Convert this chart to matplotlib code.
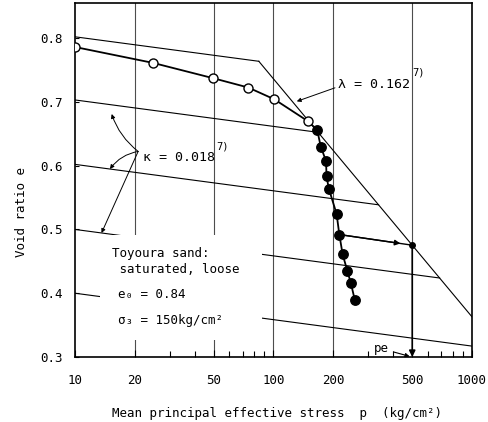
import numpy as np
import matplotlib
matplotlib.use('Agg')
import matplotlib.pyplot as plt
from matplotlib.patches import Rectangle

plt.rcParams['font.family'] = ['DejaVu Sans Mono', 'DejaVu Sans']
plt.rcParams['font.size'] = 9

# isotropic compression, open circles
p_open = [10, 24.8, 49.8, 74.6, 101, 148.6]
e_open = [0.786, 0.761, 0.737, 0.7225, 0.704, 0.670]
# compression beyond yielding, filled circles
p_fill = [166, 173, 184, 185, 190, 208, 214.6, 223, 235.5, 245.5, 257]
e_fill = [0.656, 0.630, 0.607, 0.583, 0.564, 0.524, 0.492, 0.461, 0.435, 0.4155, 0.389]

# reference lines
kappa = 0.018
lam = 0.162
kappa_e10 = [0.802, 0.703, 0.602, 0.50, 0.40]   # e at p = 10
lam_e1000 = 0.363                               # e at p = 1000
pe = 500
grid_p = [20, 50, 100, 200, 500]
xticks = [10, 20, 50, 100, 200, 500, 1000]
yticks = [0.3, 0.4, 0.5, 0.6, 0.7, 0.8]

ks = kappa * np.log(10)   # slope per decade
ls = lam * np.log(10)

def e_lam(L):
    return lam_e1000 - ls * (L - 3)

fig = plt.figure(figsize=(4.89, 4.22), dpi=100)
ax = fig.add_axes([0.1534, 0.154, 0.8118, 0.8389])
ax.set_xscale('log')
ax.set_xlim(10, 1000)
ax.set_ylim(0.3, 0.855)

for v in grid_p:
    ax.axvline(v, color='0.3', lw=0.8, zorder=1)

# kappa lines, cut where they meet the lambda line
bend = None
for e0 in kappa_e10:
    L = (lam_e1000 + 3 * ls - e0 - ks) / (ls - ks)
    L = min(L, 3.0)
    if bend is None:
        bend = L
    ax.plot([10, 10 ** L], [e0, e0 - ks * (L - 1)], color='k', lw=0.8, zorder=2)

# lambda line
ax.plot([10 ** bend, 1000], [e_lam(bend), e_lam(3)], color='k', lw=0.8, zorder=2)

# white panel behind the sample description
ax.add_patch(Rectangle((0.063, 0.048), 0.408, 0.297, transform=ax.transAxes,
                       facecolor='white', edgecolor='none', zorder=3))
ax.text(0.092, 0.31, 'Toyoura sand:\n saturated, loose', transform=ax.transAxes,
        va='top', ha='left', zorder=4, linespacing=1.3)
ax.text(0.108, 0.176, 'e₀ = 0.84', transform=ax.transAxes, va='center', zorder=4)
ax.text(0.108, 0.102, 'σ₃ = 150kg/cm²', transform=ax.transAxes, va='center', zorder=4)

# test path
ax.plot(p_open + p_fill, e_open + e_fill, color='k', lw=1.3, zorder=5)
ax.plot(p_open, e_open, 'o', ms=6.5, mfc='white', mec='k', mew=1.0, zorder=6)
ax.plot(p_fill, e_fill, 'o', ms=6.8, mfc='k', mec='k', zorder=6)

# equivalent pressure construction
e_pe = e_lam(np.log10(pe))
ax.plot([p_fill[6], pe], [e_fill[6], e_pe], color='k', lw=1.0, zorder=5)
p_head = 450
e_head = e_fill[6] + (e_pe - e_fill[6]) * np.log10(p_head / p_fill[6]) / np.log10(pe / p_fill[6])
ax.annotate('', xy=(p_head, e_head), xytext=(p_fill[6], e_fill[6]),
            arrowprops=dict(arrowstyle='-|>', color='k', lw=1.0, mutation_scale=8), zorder=5)
ax.plot([pe], [e_pe], 'o', ms=4, color='k', zorder=6)
ax.annotate('', xy=(pe, 0.3), xytext=(pe, e_pe),
            arrowprops=dict(arrowstyle='-|>', color='k', lw=1.2, mutation_scale=9,
                            shrinkA=0, shrinkB=0), zorder=5)
ax.annotate('pe', xy=(pe * 0.97, 0.301), xytext=(322, 0.313), va='center',
            arrowprops=dict(arrowstyle='-|>', color='k', lw=0.8, mutation_scale=6,
                            shrinkA=1, shrinkB=0), zorder=5)

# labels for kappa and lambda
ax.text(22.0, 0.6124, 'κ = 0.018', va='center', ha='left', fontsize=9.5)
ax.text(51.3, 0.6297, '7)', va='center', ha='left', fontsize=7.5)
ks_from = (20.8, 0.6223)
ax.annotate('', xy=(15.3, 0.681), xytext=ks_from,
            arrowprops=dict(arrowstyle='-|>', color='k', lw=0.7, mutation_scale=6,
                            connectionstyle='arc3,rad=-0.15', shrinkA=0, shrinkB=0))
ax.annotate('', xy=(15.0, 0.5947), xytext=ks_from,
            arrowprops=dict(arrowstyle='-|>', color='k', lw=0.7, mutation_scale=6,
                            connectionstyle='arc3,rad=0.2', shrinkA=0, shrinkB=0))
ax.annotate('', xy=(13.6, 0.4944), xytext=ks_from,
            arrowprops=dict(arrowstyle='-|>', color='k', lw=0.7, mutation_scale=6,
                            shrinkA=0, shrinkB=0))

ax.text(211, 0.727, 'λ = 0.162', va='center', ha='left', fontsize=9.5)
ax.text(499, 0.746, '7)', va='center', ha='left', fontsize=7.5)
ax.annotate('', xy=(131, 0.7008), xytext=(204, 0.722),
            arrowprops=dict(arrowstyle='-|>', color='k', lw=0.7, mutation_scale=6,
                            shrinkA=0, shrinkB=0))

# axes styling
ax.set_xticks(xticks)
ax.set_xticklabels([str(t) for t in xticks])
ax.set_yticks(yticks)
ax.set_yticklabels(['%.1f' % t for t in yticks])
ax.tick_params(which='major', direction='in', length=5, width=0.8, pad=12)
ax.tick_params(which='minor', direction='in', length=4, width=0.8)
ax.tick_params(axis='y', which='major', length=3, pad=9)
for s in ax.spines.values():
    s.set_linewidth(1.2)

ax.set_xlabel('Mean principal effective stress  p  (kg/cm²)')
ax.set_ylabel('Void ratio e')
ax.xaxis.set_label_coords(0.51, -0.14)
ax.yaxis.set_label_coords(-0.118, 0.41)

plt.savefig('out.png', dpi=100)
